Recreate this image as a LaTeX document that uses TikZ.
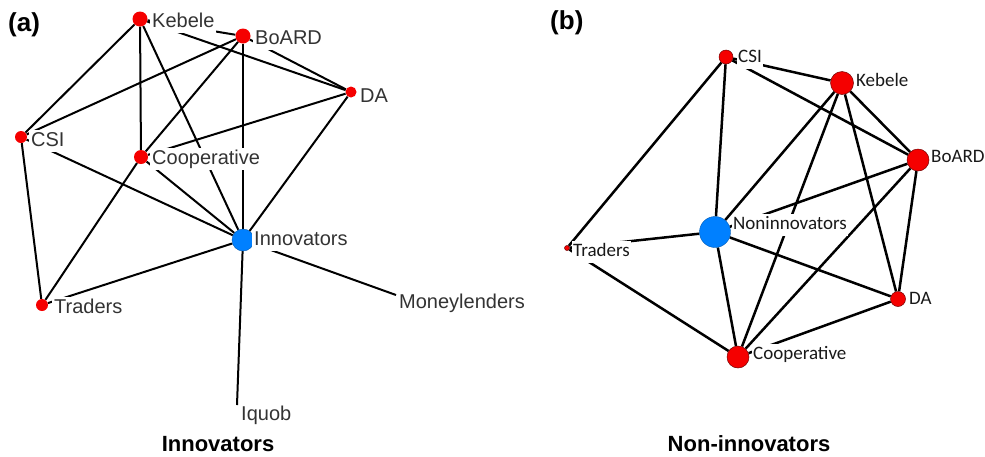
\documentclass[tikz,border=0pt]{standalone}
\usepackage{fontspec}
\setmainfont{Liberation Sans}
\newfontfamily\calfont{Carlito}
\usepackage{xcolor}
\usetikzlibrary{backgrounds}

\definecolor{focalblue}{RGB}{0,128,255}
\definecolor{actorred}{RGB}{245,0,0}

\begin{document}
\begin{tikzpicture}[x=1pt, y=-1pt,
	actora/.style={circle, fill=actorred, inner sep=0pt, minimum size=#1},
	actorb/.style={circle, fill=actorred, draw=red!45!black, line width=0.5pt, inner sep=0pt, minimum size=#1},
	focal/.style={circle, fill=focalblue, draw=focalblue!70!black, line width=0.4pt, inner sep=0pt, minimum size=#1},
	lbla/.style={anchor=west, fill=white, inner sep=2pt, text=black!80, font=\fontsize{20}{24}\selectfont, text height=14.6pt, text depth=4.2pt},
	lblb/.style={anchor=west, fill=white, inner xsep=1pt, inner ysep=2.5pt, text=black!90, font=\calfont\fontsize{19}{23}\selectfont, text height=13.5pt, text depth=4pt},
	tiea/.style={line width=2pt, black},
	tieb/.style={line width=2.5pt, black},
	tag/.style={anchor=west, inner sep=0pt, font=\bfseries\fontsize{26}{30}\selectfont, text height=19pt, text depth=5.5pt},
	ttl/.style={anchor=base, inner sep=0pt, font=\bfseries\fontsize{22}{26}\selectfont}
	]

	\useasboundingbox (0,0) rectangle (985,456);

	% (a) innovators
	\node[actora=15] (kebA) at (140,19) {};
	\node[actora=15] (boardA) at (243,36) {};
	\node[actora=11] (daA) at (351,92) {};
	\node[actora=12] (csiA) at (21,137) {};
	\node[actora=14] (coopA) at (141,157) {};
	\node[focal=22] (innov) at (243,240) {};
	\node[actora=12] (tradA) at (42,305) {};
	\coordinate (money) at (396,295);
	\coordinate (iquob) at (237,405);

	\node[lbla] (kebAl) at (150,22) {Kebele};
	\node[lbla] (boardAl) at (253,39) {BoARD};
	\node[lbla] (daAl) at (358,97) {DA};
	\node[lbla] (csiAl) at (29,141) {CSI};
	\node[lbla] (coopAl) at (150,159) {Cooperative};
	\node[lbla] (innovl) at (252,240) {Innovators};
	\node[lbla] (tradAl) at (52,308) {Traders};
	\node[lbla] (moneyl) at (397,303) {Moneylenders};
	\node[lbla] (iquobl) at (239,415) {Iquob};

	% (b) non-innovators
	\node[actorb=14] (csiB) at (726,57) {};
	\node[actorb=23] (kebB) at (842,83) {};
	\node[actorb=22] (boardB) at (918,160) {};
	\node[actorb=15] (daB) at (898,299) {};
	\node[actorb=22] (coopB) at (738,357) {};
	\node[focal=31] (noninn) at (715,232) {};
	\node[actorb=5] (tradB) at (567,248) {};

	\node[lblb] (csiBl) at (737,58) {CSI};
	\node[lblb] (kebBl) at (855,82) {Kebele};
	\node[lblb] (boardBl) at (930,158) {BoARD};
	\node[lblb] (daBl) at (908,300) {DA};
	\node[lblb] (coopBl) at (752,355) {Cooperative};
	\node[lblb] (noninnl) at (732,225) {Noninnovators};
	\node[lblb] (tradBl) at (572,252) {Traders};

	% ties
	\begin{scope}[on background layer]
		\foreach \a/\b in {kebA/csiA, kebA/coopA, kebA/innov, kebA/boardA, kebA/daA,
			boardA/csiA, boardA/coopA, boardA/daA, boardA/innov, daA/coopA, daA/innov,
			csiA/innov, csiA/tradA, coopA/innov, coopA/tradA, tradA/innov, innov/money, innov/iquob}
			\draw[tiea] (\a) -- (\b);
		\foreach \a/\b in {csiB/kebB, csiB/boardB, csiB/noninn, csiB/tradB, kebB/boardB,
			kebB/noninn, kebB/coopB, kebB/daB, boardB/noninn, boardB/coopB, boardB/daB,
			noninn/tradB, noninn/daB, noninn/coopB, tradB/coopB, daB/coopB}
			\draw[tieb] (\a) -- (\b);
	\end{scope}

	% panel tags and titles
	\node[tag] (tagA) at (8,24.5) {(a)};
	\node[tag] (tagB) at (550,22.5) {(b)};
	\node[ttl] (ttlA) at (218,451) {Innovators};
	\node[ttl] (ttlB) at (749,451) {Non-innovators};
\end{tikzpicture}
\end{document}
